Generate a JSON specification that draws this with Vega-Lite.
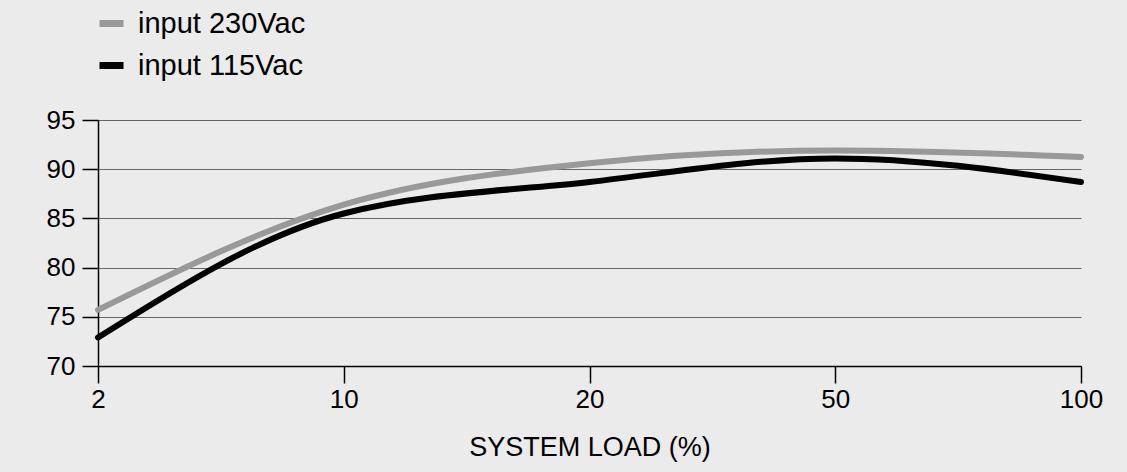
{
  "$schema": "https://vega.github.io/schema/vega-lite/v6.json",
  "width": 983,
  "height": 246,
  "autosize": {"type": "none"},
  "padding": {"left": 98, "top": 120, "right": 46, "bottom": 106},
  "background": "#ebebeb",
  "config": {
    "view": {"stroke": null},
    "font": "Liberation Sans"
  },
  "data": {
    "values": [
      {"load": "2", "series": "input 230Vac", "eff": 75.7},
      {"load": "10", "series": "input 230Vac", "eff": 86.4},
      {"load": "20", "series": "input 230Vac", "eff": 90.6},
      {"load": "50", "series": "input 230Vac", "eff": 91.9},
      {"load": "100", "series": "input 230Vac", "eff": 91.25},
      {"load": "2", "series": "input 115Vac", "eff": 72.9},
      {"load": "10", "series": "input 115Vac", "eff": 85.5},
      {"load": "20", "series": "input 115Vac", "eff": 88.7},
      {"load": "50", "series": "input 115Vac", "eff": 91.1},
      {"load": "100", "series": "input 115Vac", "eff": 88.7}
    ]
  },
  "mark": {"type": "line", "interpolate": "monotone", "strokeWidth": 6, "strokeCap": "round"},
  "encoding": {
    "x": {
      "field": "load",
      "type": "ordinal",
      "sort": ["2", "10", "20", "50", "100"],
      "scale": {"type": "point", "padding": 0},
      "axis": {
        "title": "SYSTEM LOAD (%)",
        "titleFontSize": 27,
        "titleFontWeight": "normal",
        "titleColor": "#000",
        "titlePadding": 22,
        "labelAngle": 0,
        "labelFontSize": 26,
        "labelColor": "#000",
        "labelPadding": 3,
        "domainColor": "#000",
        "domainWidth": 1.5,
        "tickColor": "#000",
        "tickWidth": 1.5,
        "tickSize": 17,
        "grid": false
      }
    },
    "y": {
      "field": "eff",
      "type": "quantitative",
      "scale": {"domain": [70, 95], "nice": false, "zero": false},
      "axis": {
        "title": null,
        "values": [70, 75, 80, 85, 90, 95],
        "labelFontSize": 26,
        "labelColor": "#000",
        "labelPadding": 7,
        "domainColor": "#000",
        "domainWidth": 1.5,
        "tickColor": "#000",
        "tickWidth": 1.5,
        "tickSize": 16,
        "grid": true,
        "gridColor": "#666666",
        "gridWidth": 1
      }
    },
    "color": {
      "field": "series",
      "type": "nominal",
      "scale": {"domain": ["input 230Vac", "input 115Vac"], "range": ["#999999", "#000000"]},
      "legend": {
        "title": null,
        "orient": "none",
        "legendX": -2,
        "legendY": -112,
        "symbolType": "stroke",
        "symbolSize": 576,
        "symbolStrokeWidth": 7,
        "labelFontSize": 29,
        "labelLimit": 400,
        "labelColor": "#000",
        "labelOffset": 11,
        "rowPadding": 11
      }
    }
  }
}
